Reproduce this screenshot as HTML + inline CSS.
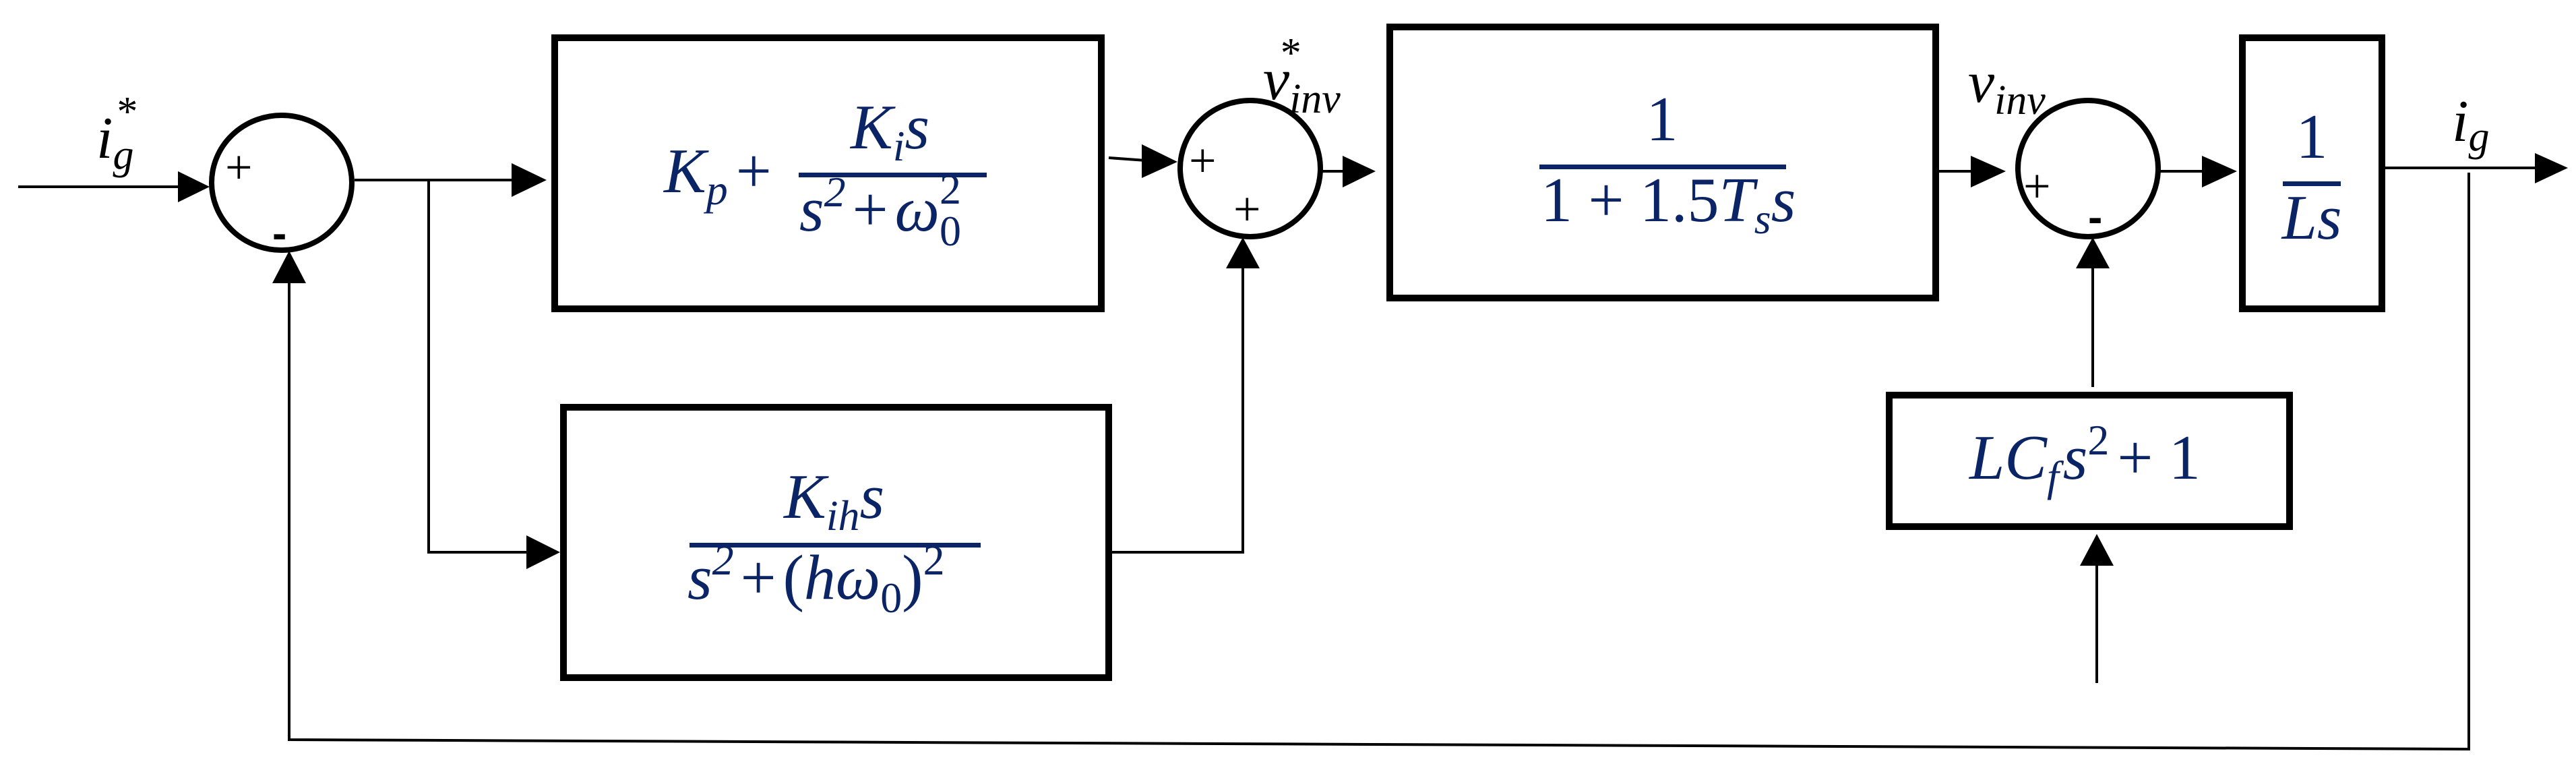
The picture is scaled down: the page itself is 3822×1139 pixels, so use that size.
<!DOCTYPE html>
<html><head><meta charset="utf-8"><style>
html,body{margin:0;padding:0;background:#fff;}
svg{display:block;}
.m{font-family:"Liberation Serif","DejaVu Serif",serif;font-style:italic;fill:#0b2466;}
.u{font-family:"Liberation Serif","DejaVu Serif",serif;font-style:normal;fill:#0b2466;}
.l{font-family:"Liberation Serif","DejaVu Serif",serif;font-style:italic;fill:#000;}
.p{font-family:"Liberation Sans",sans-serif;fill:#000;}
</style></head><body>
<svg width="3822" height="1139" viewBox="0 0 3822 1139" xmlns="http://www.w3.org/2000/svg">
<g fill="none" stroke="#000">
  <rect x="823" y="56" width="811" height="402" stroke-width="10"/>
  <rect x="836" y="604" width="809" height="401" stroke-width="10"/>
  <rect x="2062" y="40" width="810" height="402" stroke-width="10"/>
  <rect x="3327" y="56" width="207" height="402" stroke-width="10"/>
  <rect x="2803" y="586" width="594" height="195" stroke-width="10"/>
  <ellipse cx="418" cy="271" rx="104" ry="100" stroke-width="8"/>
  <ellipse cx="1855" cy="250" rx="104" ry="101" stroke-width="8"/>
  <ellipse cx="3098" cy="250" rx="104" ry="101" stroke-width="8"/>
  <g stroke-width="4">
    <polyline points="27,277 270,277"/>
    <polyline points="526,267 765,267"/>
    <polyline points="636,267 636,819 785,819"/>
    <polyline points="1650,819 1844,819 1844,395"/>
    <polyline points="1645,234 1700,238"/>
    <polyline points="1962,254 1996,254"/>
    <polyline points="2877,254 2928,254"/>
    <polyline points="3205,254 3272,254"/>
    <polyline points="3539,249 3765,249"/>
    <polyline points="3663,256 3663,1111 429,1097 429,415"/>
    <polyline points="3105,574 3105,395"/>
    <polyline points="3111,1013 3111,835"/>
  </g>
</g>
<g fill="#000">
  <polygon points="264,254 311,277 264,300"/>
  <polygon points="759,242 811,267 759,292"/>
  <polygon points="781,794 831,819 781,844"/>
  <polygon points="1694,214 1747,240 1694,264"/>
  <polygon points="1819,398 1844,352 1869,398"/>
  <polygon points="404,420 429,372 454,420"/>
  <polygon points="1992,231 2041,254 1992,278"/>
  <polygon points="2924,231 2976,254 2924,278"/>
  <polygon points="3267,231 3319,254 3267,278"/>
  <polygon points="3761,227 3810,249 3761,272"/>
  <polygon points="3080,398 3105,352 3130,398"/>
  <polygon points="3086,839 3111,792 3136,839"/>
</g>
<text class="u" x="334" y="272" font-size="72" fill="#000" style="fill:#000">+</text>
<text class="p" x="404" y="368" font-size="64" font-weight="bold">-</text>
<text class="u" x="1764" y="262" font-size="72" style="fill:#000">+</text>
<text class="u" x="1830" y="334" font-size="72" style="fill:#000">+</text>
<text class="u" x="3002" y="300" font-size="72" style="fill:#000">+</text>
<text class="p" x="3098" y="344" font-size="64" font-weight="bold">-</text>
<g fill="#0b2466">
  <rect x="1185" y="256" width="279" height="7"/>
  <rect x="1023" y="805" width="432" height="7"/>
  <rect x="2284" y="244" width="366" height="7"/>
  <rect x="3387" y="269" width="86" height="7"/>
</g>
<text class="m" x="985" y="285" font-size="94">K<tspan font-size="64" dy="18">p</tspan><tspan class="u" dy="-18" dx="12">+</tspan></text>
<text class="m" x="1262" y="220" font-size="94">K<tspan font-size="64" dy="18">i</tspan><tspan dy="-18">s</tspan></text>
<text class="m" x="1186" y="342" font-size="94">s<tspan font-size="64" dy="-36">2</tspan><tspan class="u" dy="36" dx="10">+</tspan><tspan dx="10">ω</tspan><tspan font-size="64" dy="22" class="u">0</tspan><tspan font-size="64" dy="-62" dx="-32" class="u">2</tspan></text>
<text class="m" x="1163" y="768" font-size="94">K<tspan font-size="64" dy="18">ih</tspan><tspan dy="-18">s</tspan></text>
<text class="m" x="1020" y="888" font-size="94">s<tspan font-size="64" dy="-36">2</tspan><tspan class="u" dy="36" dx="10">+</tspan><tspan class="u" dx="10">(</tspan>hω<tspan font-size="64" dy="20" class="u">0</tspan><tspan class="u" dy="-20">)</tspan><tspan font-size="64" dy="-36" class="u">2</tspan></text>
<text class="u" x="2466" y="208" font-size="94" text-anchor="middle">1</text>
<text class="u" x="2286" y="328" font-size="94">1 + 1.5<tspan class="m">T</tspan><tspan class="m" font-size="64" dy="18">s</tspan><tspan class="m" dy="-18">s</tspan></text>
<text class="u" x="3430" y="234" font-size="94" text-anchor="middle">1</text>
<text class="m" x="3430" y="354" font-size="94" text-anchor="middle">Ls</text>
<text class="m" x="2922" y="710" font-size="94">LC<tspan font-size="64" dy="18">f</tspan><tspan dy="-18" dx="6">s</tspan><tspan font-size="64" dy="-36" class="u">2</tspan><tspan class="u" dy="36" dx="12">+ 1</tspan></text>
<text class="l" x="143" y="234" font-size="88">i<tspan font-size="62" dy="16">g</tspan><tspan font-size="62" dy="-64" dx="-28">*</tspan></text>
<text class="l" x="1874" y="147" font-size="88">v<tspan font-size="62" dy="20">inv</tspan><tspan font-size="62" dy="-68" dx="-92">*</tspan></text>
<text class="l" x="2920" y="151" font-size="88">v<tspan font-size="62" dy="18">inv</tspan></text>
<text class="l" x="3638" y="209" font-size="88">i<tspan font-size="62" dy="14">g</tspan></text>
</svg>
</body></html>
